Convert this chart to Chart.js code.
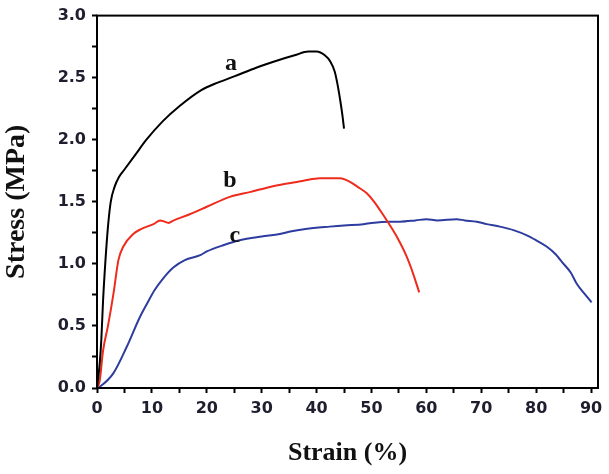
<!DOCTYPE html>
<html>
<head>
<meta charset="utf-8">
<script src="https://cdn.jsdelivr.net/npm/chart.js@4/dist/chart.umd.min.js"></script>
<style>
html,body{margin:0;padding:0;background:#fff;}
#wrap{width:609px;height:474px;position:relative;}
</style>
</head>
<body>
<div id="wrap"><canvas id="c" width="609" height="474"></canvas></div>
<script>
// ---- data ----
const seriesNames = ['a', 'b', 'c'];
const strainA = [0, 0.5, 0.8, 1.1, 1.5, 2.0, 2.5, 3.2, 4.0, 5.0, 7.0, 9.0, 12.0, 15.0, 19.0, 22.0, 25.0, 29.0, 33.0, 36.0, 38.5, 40.0, 41.5, 42.5, 43.3, 43.8, 44.3, 44.7, 45.0];
const stressA = [0, 0.2, 0.4, 0.7, 1.0, 1.3, 1.5, 1.62, 1.7, 1.76, 1.88, 2.0, 2.15, 2.27, 2.4, 2.46, 2.51, 2.58, 2.64, 2.68, 2.71, 2.71, 2.68, 2.63, 2.55, 2.45, 2.32, 2.2, 2.09];
const strainB = [0, 0.5, 1.1, 2.0, 3.0, 3.9, 4.8, 6.6, 8.0, 10.3, 11.5, 12.3, 13.0, 14.0, 16.9, 20.0, 24.2, 28.0, 31.5, 35.0, 37.6, 40.6, 43.0, 44.3, 46.1, 47.5, 49.1, 50.5, 51.6, 52.8, 54.6, 56.4, 57.6, 58.7];
const stressB = [0, 0.06, 0.3, 0.5, 0.76, 1.03, 1.14, 1.24, 1.28, 1.32, 1.35, 1.34, 1.33, 1.35, 1.40, 1.46, 1.54, 1.58, 1.62, 1.65, 1.67, 1.69, 1.69, 1.69, 1.66, 1.62, 1.57, 1.50, 1.43, 1.35, 1.22, 1.06, 0.92, 0.77];
const strainC = [0, 0.5, 3.0, 5.4, 7.8, 9.0, 10.5, 12.0, 13.9, 16.0, 18.8, 20.0, 23.0, 26.0, 30.0, 33.3, 35.2, 38.0, 42.4, 45.0, 48.5, 50.0, 53.4, 55.2, 58.0, 60.0, 62.0, 65.5, 67.0, 69.2, 71.0, 73.4, 76.0, 78.3, 80.0, 81.9, 83.5, 85.0, 86.3, 87.4, 88.8, 90.1];
const stressC = [0, 0.01, 0.12, 0.33, 0.57, 0.67, 0.79, 0.88, 0.97, 1.03, 1.07, 1.10, 1.15, 1.19, 1.22, 1.24, 1.26, 1.28, 1.30, 1.31, 1.32, 1.33, 1.34, 1.34, 1.35, 1.36, 1.35, 1.36, 1.35, 1.34, 1.32, 1.30, 1.27, 1.23, 1.19, 1.14, 1.08, 1.00, 0.93, 0.84, 0.76, 0.69];
// curve label anchors in data units [strain, stress]
const labelAnchors = [[24.4, 2.61], [24.2, 1.67], [25.1, 1.23]];
const xTickStep = 5, xLabelStep = 10;
const yTickStep = 0.25, yLabelStep = 0.5;

const pts = (xs, ys) => xs.map((x, i) => ({x: x, y: ys[i]}));
const colors = ['#000000', '#ee2b1c', '#2d3c9e'];

const frame = {
  id: 'frame',
  afterDatasetsDraw(chart) {
    const {ctx, chartArea: a, scales} = chart;
    ctx.save();
    ctx.strokeStyle = '#000';
    ctx.lineWidth = 2;
    ctx.strokeRect(a.left, a.top, a.right - a.left, a.bottom - a.top);
    ctx.fillStyle = '#111';
    ctx.font = 'bold 24px "Liberation Serif", "Times New Roman", serif';
    ctx.textAlign = 'center';
    ctx.textBaseline = 'middle';
    labelAnchors.forEach((p, i) => {
      ctx.fillText(seriesNames[i], scales.x.getPixelForValue(p[0]), scales.y.getPixelForValue(p[1]));
    });
    ctx.restore();
  }
};

new Chart(document.getElementById('c'), {
  type: 'line',
  data: {
    datasets: [
      {label: seriesNames[0], data: pts(strainA, stressA)},
      {label: seriesNames[1], data: pts(strainB, stressB)},
      {label: seriesNames[2], data: pts(strainC, stressC)}
    ].map((d, i) => Object.assign(d, {
      borderColor: colors[i], borderWidth: 2, pointRadius: 0, fill: false,
      cubicInterpolationMode: 'monotone'
    }))
  },
  options: {
    responsive: false,
    animation: false,
    layout: {padding: {left: 0, top: 15, right: 11, bottom: 0}},
    plugins: {legend: {display: false}, tooltip: {enabled: false}},
    scales: {
      x: {
        type: 'linear', min: 0, max: 91.27,
        border: {display: false},
        grid: {drawOnChartArea: false, drawTicks: true, tickLength: 5, tickWidth: 2, tickColor: '#000'},
        ticks: {
          stepSize: xTickStep, includeBounds: false, autoSkip: false, maxRotation: 0,
          padding: 6, color: '#1e1e2e',
          font: {family: '"DejaVu Sans", sans-serif', weight: 'bold', size: 16},
          callback: v => (Math.abs(v % xLabelStep) < 1e-6 ? String(v) : '')
        },
        title: {
          display: true, text: 'Strain (%)', color: '#111',
          font: {family: '"Liberation Serif", "Times New Roman", serif', weight: 'bold', size: 26},
          padding: {top: 0, bottom: 5}
        },
        afterFit: s => { s.height = 86; }
      },
      y: {
        type: 'linear', min: 0, max: 3,
        border: {display: false},
        grid: {drawOnChartArea: false, drawTicks: true, tickLength: 5, tickWidth: 2, tickColor: '#000'},
        ticks: {
          stepSize: yTickStep, includeBounds: false, autoSkip: false,
          padding: 6, color: '#1e1e2e',
          font: {family: '"DejaVu Sans", sans-serif', weight: 'bold', size: 16},
          callback: v => (Math.abs((v / yLabelStep) - Math.round(v / yLabelStep)) < 1e-6 ? v.toFixed(1) : '')
        },
        title: {
          display: true, text: 'Stress (MPa)', color: '#111',
          font: {family: '"Liberation Serif", "Times New Roman", serif', weight: 'bold', size: 28},
          padding: {top: 0, bottom: 0}
        },
        afterFit: s => { s.width = 97; }
      }
    }
  },
  plugins: [frame]
});
</script>
</body>
</html>
